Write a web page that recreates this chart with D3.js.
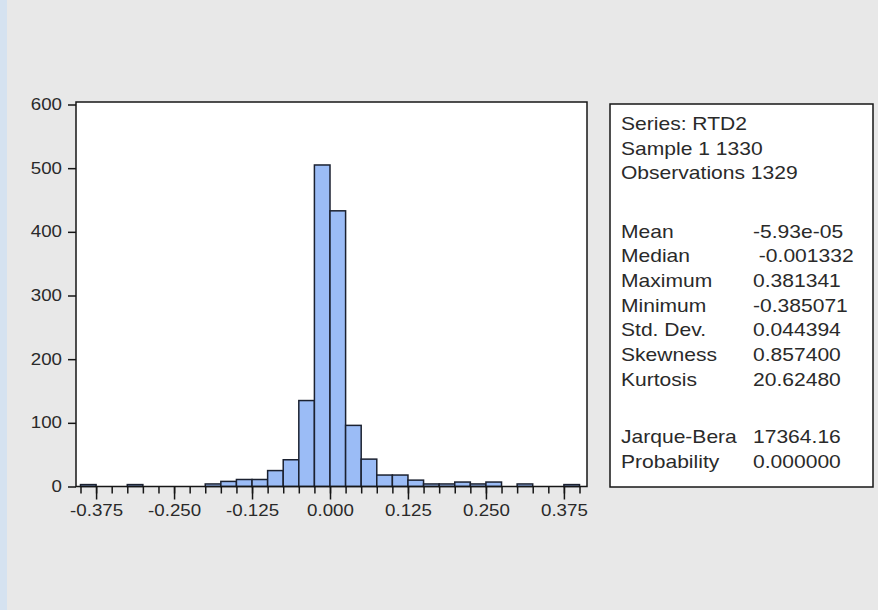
<!DOCTYPE html>
<html>
<head>
<meta charset="utf-8">
<script src="https://cdn.jsdelivr.net/npm/d3@7"></script>
<style>
  html, body { margin: 0; padding: 0; background: #e8e8e8; }
  svg { display: block; }
  text { font-family: "Liberation Sans", Arial, sans-serif; fill: #2a2a2a; white-space: pre; }
</style>
</head>
<body>
<svg id="chart" width="878" height="610"></svg>
<script>
// Histogram bins: left edges and counts (bin width 0.025)
const binWidth = 0.025;
const binStarts = [
  -0.400, -0.375, -0.350, -0.325, -0.300, -0.275, -0.250, -0.225,
  -0.200, -0.175, -0.150, -0.125, -0.100, -0.075, -0.050, -0.025,
   0.000,  0.025,  0.050,  0.075,  0.100,  0.125,  0.150,  0.175,
   0.200,  0.225,  0.250,  0.275,  0.300,  0.325,  0.350,  0.375
];
const binCounts = [
  3, 0, 0, 3, 0, 0, 0, 0,
  4, 8, 11, 11, 25, 42, 135, 505,
  433, 96, 43, 18, 18, 10, 4, 4,
  7, 4, 7, 0, 4, 0, 0, 3
];

// Axis ticks
const yTickValues = [0, 100, 200, 300, 400, 500, 600];
const xMajorTicks = [-0.375, -0.250, -0.125, 0.000, 0.125, 0.250, 0.375];
const xTickLabels = ["-0.375", "-0.250", "-0.125", "0.000", "0.125", "0.250", "0.375"];

// Descriptive statistics panel
const headerLines = ["Series: RTD2", "Sample 1 1330", "Observations 1329"];
const statNames = ["Mean", "Median", "Maximum", "Minimum", "Std. Dev.", "Skewness", "Kurtosis"];
const statValues = ["-5.93e-05", " -0.001332", "0.381341", "-0.385071", "0.044394", "0.857400", "20.62480"];
const testNames = ["Jarque-Bera", "Probability"];
const testValues = ["17364.16", "0.000000"];

const svg = d3.select("#chart");
const stretch = 1.17;   // horizontal text stretch

// background with a pale blue strip on the left edge
svg.append("rect").attr("x", 0).attr("y", 0).attr("width", 878).attr("height", 610).attr("fill", "#e8e8e8");
svg.append("rect").attr("x", 0).attr("y", 0).attr("width", 7).attr("height", 610).attr("fill", "#d5e2f0");

// plot frame geometry
const frame = { left: 76, right: 587, top: 102, bottom: 486.5 };

const x = d3.scaleLinear().domain([-0.4, 0.4]).range([80.5, 579.5]);
const y = d3.scaleLinear().domain([0, 600]).range([frame.bottom, 104.5]);

svg.append("rect")
  .attr("x", frame.left).attr("y", frame.top)
  .attr("width", frame.right - frame.left).attr("height", frame.bottom - frame.top)
  .attr("fill", "#ffffff");

// bars
const bins = binStarts.map((s, i) => ({ x0: s, x1: s + binWidth, n: binCounts[i] }));
svg.append("g").selectAll("rect")
  .data(bins.filter(d => d.n > 0))
  .join("rect")
  .attr("x", d => x(d.x0))
  .attr("width", d => x(d.x1) - x(d.x0))
  .attr("y", d => y(d.n))
  .attr("height", d => y(0) - y(d.n))
  .attr("fill", "#9bbcf6")
  .attr("stroke", "#1b2130")
  .attr("stroke-width", 1.5);

// frame outline (bottom edge is the zero line)
svg.append("rect")
  .attr("x", frame.left).attr("y", frame.top)
  .attr("width", frame.right - frame.left).attr("height", frame.bottom - frame.top)
  .attr("fill", "none")
  .attr("stroke", "#161616")
  .attr("stroke-width", 1.5);

// y axis
const yAxis = svg.append("g")
  .attr("transform", `translate(${frame.left},0)`)
  .call(d3.axisLeft(y).tickValues(yTickValues).tickSize(8).tickPadding(4).tickFormat(d3.format("d")));
yAxis.select(".domain").remove();
yAxis.selectAll(".tick line").attr("stroke", "#161616").attr("stroke-width", 1.5);
yAxis.selectAll(".tick text")
  .attr("font-size", 16)
  .attr("font-family", null)
  .attr("fill", "#2a2a2a")
  .attr("transform", `scale(${stretch},1)`);

// x axis: minor ticks at every bin edge, major ticks with labels
const binEdges = binStarts.concat([binStarts[binStarts.length - 1] + binWidth]);
const xMinor = svg.append("g")
  .attr("transform", `translate(0,${frame.bottom})`)
  .call(d3.axisBottom(x).tickValues(binEdges).tickSize(7).tickFormat(""));
xMinor.select(".domain").remove();
xMinor.selectAll(".tick line").attr("stroke", "#161616").attr("stroke-width", 1.5);

const xMajor = svg.append("g")
  .attr("transform", `translate(0,${frame.bottom})`)
  .call(d3.axisBottom(x).tickValues(xMajorTicks).tickSize(13).tickPadding(5)
    .tickFormat((d, i) => xTickLabels[i]));
xMajor.select(".domain").remove();
xMajor.selectAll(".tick line").attr("stroke", "#161616").attr("stroke-width", 1.5);
xMajor.selectAll(".tick text")
  .attr("font-size", 16)
  .attr("font-family", null)
  .attr("fill", "#2a2a2a")
  .attr("transform", `scale(${stretch},1)`);

// statistics box
const box = { left: 610, right: 873, top: 104, bottom: 487 };
svg.append("rect")
  .attr("x", box.left).attr("y", box.top)
  .attr("width", box.right - box.left).attr("height", box.bottom - box.top)
  .attr("fill", "#ffffff")
  .attr("stroke", "#161616")
  .attr("stroke-width", 1.5);

const lineH = 24.7;
const labelX = 621;
const valueX = 753;
const stats = svg.append("g").attr("font-size", 18);

function addText(str, tx, ty) {
  stats.append("text")
    .attr("transform", `translate(${tx},${ty}) scale(${stretch},1)`)
    .text(str);
}

headerLines.forEach((s, i) => addText(s, labelX, 130 + i * lineH));
statNames.forEach((s, i) => {
  addText(s, labelX, 237.5 + i * lineH);
  addText(statValues[i], valueX, 237.5 + i * lineH);
});
testNames.forEach((s, i) => {
  addText(s, labelX, 443 + i * lineH);
  addText(testValues[i], valueX, 443 + i * lineH);
});
</script>
</body>
</html>
